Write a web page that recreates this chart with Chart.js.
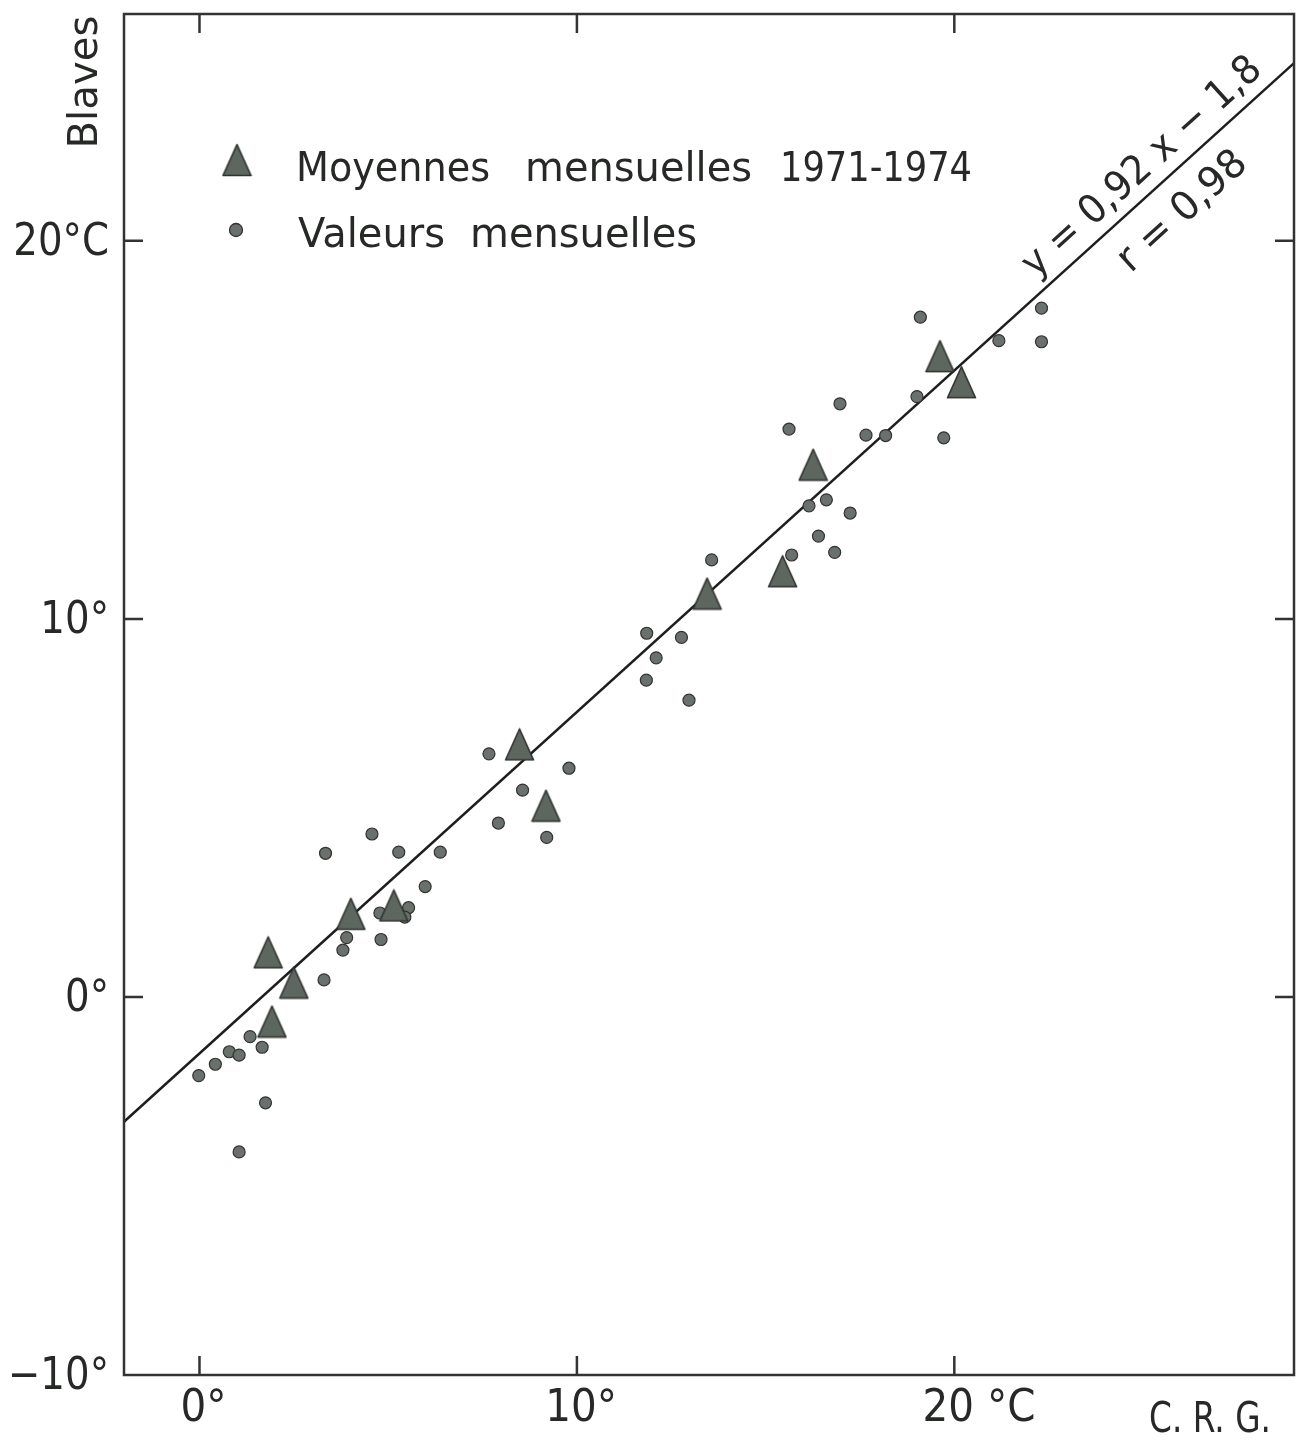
<!DOCTYPE html>
<html lang="fr">
<head>
  <meta charset="UTF-8">
  <title>Blaves / C.R.G.</title>
  <script src="https://cdn.jsdelivr.net/npm/chart.js"></script>
  <style>
    html, body { margin: 0; padding: 0; background: #fff; overflow: hidden; }
    #crgChart { display: block; }
  </style>
</head>
<body>
  <canvas id="crgChart" width="1301" height="1441"></canvas>
  <script>
    // monthly means 1971-1974 (triangles)
    const meanX = [1.82, 2.50, 1.92, 4.01, 5.15, 8.48, 9.18, 13.45, 15.45, 16.26, 19.62, 20.19];
    const meanY = [1.18, 0.38, -0.65, 2.20, 2.42, 6.68, 5.06, 10.67, 11.26, 14.08, 16.95, 16.26];

    // monthly values (dots)
    const monthX = [-0.02, 0.42, 0.79, 1.05, 1.34, 1.66, 1.75, 1.05, 3.30, 3.90, 3.80, 4.81,
                    3.34, 4.57, 5.28, 6.38, 5.98, 5.54, 4.78, 5.44, 7.67, 8.56, 7.92, 9.20,
                    9.79, 11.85, 12.77, 12.10, 11.84, 12.97, 13.57, 15.62, 16.97, 17.66, 18.18, 19.01,
                    19.72, 16.61, 16.15, 17.24, 16.40, 16.83, 15.69, 19.10, 21.18, 22.31, 22.31];
    const monthY = [-2.08, -1.78, -1.45, -1.54, -1.05, -1.33, -2.80, -4.10, 0.45, 1.57, 1.24, 1.52,
                    3.80, 4.31, 3.83, 3.83, 2.92, 2.36, 2.22, 2.11, 6.43, 5.47, 4.60, 4.22,
                    6.05, 9.62, 9.51, 8.97, 8.38, 7.85, 11.56, 15.02, 15.69, 14.86, 14.85, 15.88,
                    14.79, 13.15, 12.99, 12.80, 12.19, 11.76, 11.69, 17.98, 17.36, 18.22, 17.33];

    // regression line y = 0,92 x - 1,8 (end points)
    const fitX = [-2, 29];
    const fitY = [-3.3, 24.7];

    const xTicks = [0, 10, 20];
    const xTickNum = ['0', '10', '20'];
    const xTickUnit = ['°', '°', ' °C'];
    const yTicks = [-10, 0, 10, 20];
    const yTickLabels = ['−10°', '0°', '10°', '20°C'];

    const ink = '#272927';
    const FONT = '"DejaVu Sans", "Noto Sans", sans-serif';

    // tall grey triangle used as point style
    function makeTriangle(w, h) {
      const c = document.createElement('canvas');
      c.width = w; c.height = h;
      const g = c.getContext('2d');
      g.beginPath();
      g.moveTo(w / 2, 1.5);
      g.lineTo(w - 1.5, h - 1.5);
      g.lineTo(1.5, h - 1.5);
      g.closePath();
      g.fillStyle = '#5e6660';
      g.fill();
      g.lineJoin = 'round';
      g.lineWidth = 1.6;
      g.strokeStyle = '#2f332f';
      g.stroke();
      return c;
    }
    const tri = makeTriangle(31, 34);

    // draws text squeezed horizontally or fitted to a given width
    function text(ctx, s, x, y, o) {
      ctx.save();
      ctx.translate(x, y);
      if (o.rot) ctx.rotate(o.rot);
      ctx.font = o.font;
      ctx.fillStyle = ink;
      ctx.textAlign = o.align || 'left';
      ctx.textBaseline = o.base || 'alphabetic';
      const w = ctx.measureText(s).width;
      const k = o.fit ? o.fit / w : (o.sx || 1);
      ctx.scale(k, 1);
      ctx.fillText(s, 0, 0);
      ctx.restore();
      return w * k;
    }

    const frame = {
      id: 'frame',
      afterDraw(chart) {
        const { ctx, chartArea: a, scales: { x, y } } = chart;
        const tl = 19;
        ctx.save();
        ctx.strokeStyle = '#333';
        ctx.lineWidth = 2.5;
        ctx.strokeRect(a.left, a.top, a.right - a.left, a.bottom - a.top);
        ctx.beginPath();
        xTicks.forEach(v => {
          const px = x.getPixelForValue(v);
          ctx.moveTo(px, a.bottom); ctx.lineTo(px, a.bottom - tl);
          ctx.moveTo(px, a.top); ctx.lineTo(px, a.top + tl);
        });
        yTicks.forEach(v => {
          if (v === y.min) return;
          const py = y.getPixelForValue(v);
          ctx.moveTo(a.left, py); ctx.lineTo(a.left + tl, py);
          ctx.moveTo(a.right, py); ctx.lineTo(a.right - tl, py);
        });
        ctx.stroke();
        ctx.restore();

        const tickFont = '44px ' + FONT;
        // x tick labels: number centred on the tick, unit after it
        xTicks.forEach((v, i) => {
          const px = x.getPixelForValue(v) - 6;
          const w = text(ctx, xTickNum[i], px, 1421, { font: tickFont, align: 'center', sx: 0.92 });
          text(ctx, xTickUnit[i], px + w / 2, 1421, { font: tickFont, sx: 0.92 });
        });
        yTicks.forEach((v, i) => {
          const py = y.getPixelForValue(v);
          text(ctx, yTickLabels[i], a.left - 15, py + 3, { font: tickFont, align: 'right', base: 'middle', sx: 0.88 });
        });

        // axis names
        text(ctx, 'Blaves', 87, 82, { font: '40px ' + FONT, align: 'center', base: 'middle', rot: -Math.PI / 2, fit: 133 });
        text(ctx, 'C. R. G.', 1210, 1432, { font: '42px ' + FONT, align: 'center', fit: 122 });

        // legend
        ctx.drawImage(tri, 237 - tri.width / 2, 160 - tri.height / 2);
        ctx.beginPath();
        ctx.arc(236, 230, 6.5, 0, Math.PI * 2);
        ctx.fillStyle = '#6a706b'; ctx.fill();
        ctx.lineWidth = 1.3; ctx.strokeStyle = '#333'; ctx.stroke();
        const lf = '40px ' + FONT;
        text(ctx, 'Moyennes', 296, 181, { font: lf, fit: 194 });
        text(ctx, 'mensuelles', 525, 181, { font: lf, fit: 227 });
        text(ctx, '1971-1974', 780, 181, { font: lf, fit: 192 });
        text(ctx, 'Valeurs', 298, 247, { font: lf, fit: 147 });
        text(ctx, 'mensuelles', 470, 247, { font: lf, fit: 227 });

        // equation along the regression line
        const m = chart.getDatasetMeta(2).data;
        const ang = Math.atan2(m[1].y - m[0].y, m[1].x - m[0].x);
        const ax = x.getPixelForValue(25.42);
        const t = (ax - m[0].x) / (m[1].x - m[0].x);
        const ay = m[0].y + t * (m[1].y - m[0].y);
        const nx = Math.sin(ang), ny = -Math.cos(ang);
        const ef = '40px ' + FONT;
        text(ctx, 'y = 0,92 x − 1,8', ax + 24 * nx, ay + 24 * ny, { font: ef, align: 'center', base: 'middle', rot: ang, fit: 308 });
        text(ctx, 'r = 0,98', ax - 36 * nx, ay - 36 * ny, { font: ef, align: 'center', base: 'middle', rot: ang, fit: 160 });
      }
    };

    const ctx = document.getElementById('crgChart').getContext('2d');
    const crgChart = new Chart(ctx, {
      type: 'scatter',
      data: {
        datasets: [
          {
            label: 'Moyennes mensuelles 1971-1974',
            data: meanX.map((v, i) => ({ x: v, y: meanY[i] })),
            pointStyle: tri,
            pointRadius: 16,
            order: 1
          },
          {
            label: 'Valeurs mensuelles',
            data: monthX.map((v, i) => ({ x: v, y: monthY[i] })),
            pointStyle: 'circle',
            pointRadius: 6,
            pointBackgroundColor: '#6a706b',
            pointBorderColor: '#333',
            pointBorderWidth: 1.2,
            order: 2
          },
          {
            type: 'line',
            label: 'y = 0,92 x - 1,8',
            data: fitX.map((v, i) => ({ x: v, y: fitY[i] })),
            borderColor: '#1e1e1e',
            borderWidth: 2.5,
            pointRadius: 0,
            fill: false,
            order: 3
          }
        ]
      },
      options: {
        responsive: false,
        devicePixelRatio: 1,
        animation: false,
        layout: { autoPadding: false, padding: { top: 14, right: 7, left: 0, bottom: 0 } },
        plugins: { legend: { display: false }, tooltip: { enabled: false } },
        scales: {
          x: {
            type: 'linear', min: -2, max: 29,
            grid: { display: false }, border: { display: false },
            ticks: { display: false },
            afterFit(s) { s.height = 66; }
          },
          y: {
            type: 'linear', min: -10, max: 26,
            grid: { display: false }, border: { display: false },
            ticks: { display: false },
            afterFit(s) { s.width = 124; }
          }
        }
      },
      plugins: [frame]
    });
  </script>
</body>
</html>
